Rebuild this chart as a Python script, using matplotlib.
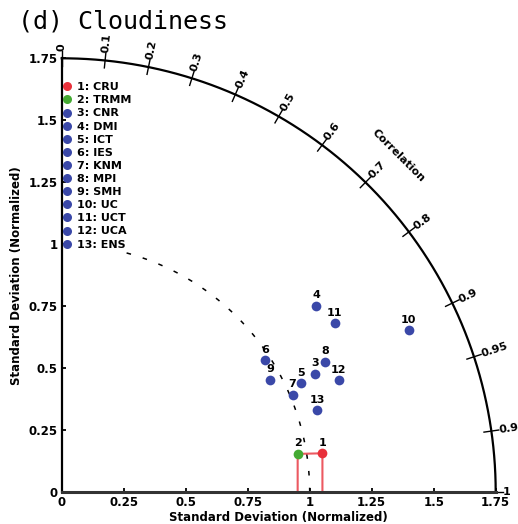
import numpy as np
import matplotlib; matplotlib.use("Agg")
import matplotlib.pyplot as plt
from matplotlib.lines import Line2D

# ---- data (normalised std, correlation)
NAMES = ["CRU", "TRMM", "CNR", "DMI", "ICT", "IES", "KNM", "MPI", "SMH",
         "UC", "UCT", "UCA", "ENS"]
STD = [1.063, 0.964, 1.127, 1.273, 1.062, 0.977, 1.011, 1.186, 0.954,
       1.544, 1.295, 1.205, 1.083]
CORR = [0.989, 0.987, 0.906, 0.807, 0.910, 0.838, 0.921, 0.896, 0.880,
        0.906, 0.850, 0.927, 0.952]
COLORS = ["#e8303a", "#44aa33"] + ["#3a48a8"] * 11
CORR_TICKS = [0, 0.1, 0.2, 0.3, 0.4, 0.5, 0.6, 0.7, 0.8, 0.9, 0.95, 0.99, 1]
STD_TICKS = [0, 0.25, 0.5, 0.75, 1, 1.25, 1.5, 1.75]
STD_MAX = 1.75

fig = plt.figure(figsize=(5.18, 5.24), dpi=100)
ax = fig.add_axes([61.7/518, 31.7/524, 434/518, 434/524])
ax.set_xlim(0, STD_MAX); ax.set_ylim(0, STD_MAX)
for s in ("top", "right"):
    ax.spines[s].set_visible(False)
ax.spines["left"].set_linewidth(1.6)
ax.spines["bottom"].set_linewidth(2.2); ax.spines["bottom"].set_color("#333333")
ax.set_xticks(STD_TICKS); ax.set_yticks(STD_TICKS)
lab = [("%g" % v) for v in STD_TICKS]
ax.set_xticklabels(lab); ax.set_yticklabels(lab)
ax.tick_params(direction="in", length=3, width=1.3, labelsize=8.5, pad=3)
for t in ax.get_xticklabels() + ax.get_yticklabels():
    t.set_fontweight("bold")

# outer arc + correlation ticks
th = np.linspace(0, np.pi/2, 300)
ax.plot(STD_MAX*np.cos(th), STD_MAX*np.sin(th), color="black", lw=1.6, clip_on=False)
for c in CORR_TICKS:
    a = np.arccos(c)
    ax.plot([1.72*np.cos(a), 1.78*np.cos(a)], [1.72*np.sin(a), 1.78*np.sin(a)],
            color="black", lw=1, clip_on=False)
    ax.text(1.78*np.cos(a), 1.78*np.sin(a), "%g" % c, rotation=np.degrees(a),
            rotation_mode="anchor", ha="left", va="center", fontsize=8,
            fontweight="bold", clip_on=False)
ax.text(1.92*np.cos(np.pi/4), 1.92*np.sin(np.pi/4), "Correlation", rotation=-45,
        ha="center", va="center", fontsize=8, fontweight="bold")

# reference (std = 1) dashed arc, partly hidden by the legend
th = np.linspace(0, np.arccos(0.26), 200)
ax.plot(np.cos(th), np.sin(th), color="black", lw=1.1, ls=(0, (3, 8)))

# points
xs = np.array(STD)*np.array(CORR)
ys = np.array(STD)*np.sin(np.arccos(CORR))
ax.plot([xs[1], xs[1], xs[0], xs[0]], [0, ys[1], ys[0], 0], color="#e8303a",
        lw=1.5, alpha=0.8, clip_on=False)
for i in range(len(NAMES)):
    ax.plot(xs[i], ys[i], "o", color=COLORS[i], ms=7, mec="none", zorder=5)
    ax.annotate(str(i+1), (xs[i], ys[i]), xytext=(0, 4), textcoords="offset points",
                ha="center", va="bottom", fontsize=8, fontweight="bold")

handles = [Line2D([], [], ls="none", marker="o", color=COLORS[i], ms=6.5, mec="none")
           for i in range(len(NAMES))]
ax.legend(handles, ["%d: %s" % (i+1, n) for i, n in enumerate(NAMES)],
          loc="upper left", bbox_to_anchor=(0.003, 0.945), frameon=False,
          handlelength=0.8, handletextpad=0.5, labelspacing=0.28, borderpad=0,
          borderaxespad=0, prop={"size": 8, "weight": "bold"})

ax.set_xlabel("Standard Deviation (Normalized)", fontsize=8.5, fontweight="bold", labelpad=1)
ax.set_ylabel("Standard Deviation (Normalized)", fontsize=8.5, fontweight="bold", labelpad=4)
fig.text(18/518, 1 - 22/524, "(d) Cloudiness", family="DejaVu Sans Mono",
         fontsize=18, ha="left", va="center")
fig.savefig("out.png", dpi=100)
